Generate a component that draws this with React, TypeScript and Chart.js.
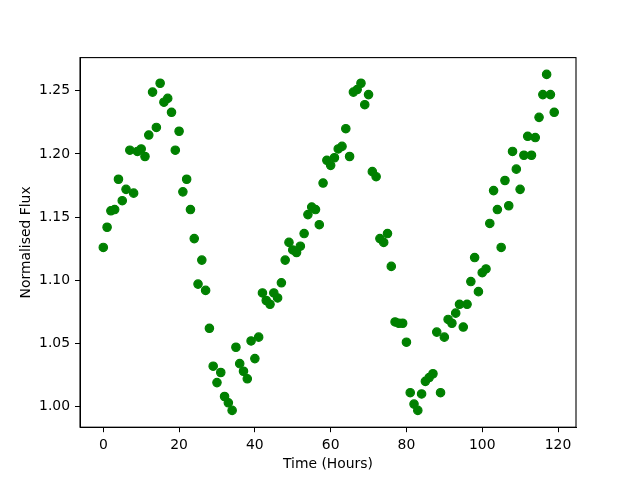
import React, { useEffect, useRef } from "react";
import { Chart, registerables } from "chart.js";

Chart.register(...registerables);

const hours: number[] = [
  0, 1, 2, 3, 4, 5, 6, 7, 8, 9, 10, 11, 12, 13, 14, 15, 16, 17, 18, 19,
  20, 21, 22, 23, 24, 25, 26, 27, 28, 29, 30, 31, 32, 33, 34, 35, 36, 37, 38, 39,
  40, 41, 42, 43, 44, 45, 46, 47, 48, 49, 50, 51, 52, 53, 54, 55, 56, 57, 58, 59,
  60, 61, 62, 63, 64, 65, 66, 67, 68, 69, 70, 71, 72, 73, 74, 75, 76, 77, 78, 79,
  80, 81, 82, 83, 84, 85, 86, 87, 88, 89, 90, 91, 92, 93, 94, 95, 96, 97, 98, 99,
  100, 101, 102, 103, 104, 105, 106, 107, 108, 109, 110, 111, 112, 113, 114, 115, 116, 117, 118, 119,
];

const flux: number[] = [
  1.126, 1.142, 1.155, 1.156, 1.180, 1.163, 1.172, 1.203, 1.169, 1.202,
  1.204, 1.198, 1.215, 1.249, 1.221, 1.256, 1.241, 1.244, 1.233, 1.203,
  1.218, 1.170, 1.180, 1.156, 1.133, 1.097, 1.116, 1.092, 1.062, 1.032,
  1.019, 1.027, 1.008, 1.003, 0.997, 1.047, 1.034, 1.028, 1.022, 1.052,
  1.038, 1.055, 1.090, 1.084, 1.081, 1.090, 1.086, 1.098, 1.116, 1.130,
  1.124, 1.122, 1.127, 1.137, 1.152, 1.158, 1.156, 1.144, 1.177, 1.195,
  1.191, 1.197, 1.204, 1.206, 1.220, 1.198, 1.249, 1.251, 1.256, 1.239,
  1.247, 1.186, 1.182, 1.133, 1.130, 1.137, 1.111, 1.067, 1.066, 1.066,
  1.051, 1.011, 1.002, 0.997, 1.010, 1.020, 1.023, 1.026, 1.059, 1.011,
  1.055, 1.069, 1.066, 1.074, 1.081, 1.063, 1.081, 1.099, 1.118, 1.091,
  1.106, 1.109, 1.145, 1.171, 1.156, 1.126, 1.179, 1.159, 1.202, 1.188,
  1.172, 1.199, 1.214, 1.199, 1.213, 1.229, 1.247, 1.263, 1.247, 1.233,
];

const xTicks: number[] = [0, 20, 40, 60, 80, 100, 120];
const yTicks: number[] = [1.0, 1.05, 1.1, 1.15, 1.2, 1.25];

const xTitle = "Time (Hours)";
const yTitle = "Normalised Flux";

const FONT = "'DejaVu Sans', sans-serif";

const framePlugin = {
  id: "frame",
  afterDatasetsDraw(chart: any) {
    const { ctx, chartArea } = chart;
    ctx.save();
    ctx.strokeStyle = "#000";
    ctx.lineWidth = 1.1;
    ctx.strokeRect(chartArea.left, chartArea.top, chartArea.right - chartArea.left, chartArea.bottom - chartArea.top);
    ctx.restore();
  },
};

export default function App() {
  const ref = useRef<HTMLCanvasElement | null>(null);

  useEffect(() => {
    if (!ref.current) return;
    const data = hours.map((h, i) => ({ x: h, y: flux[i] }));
    const chart = new Chart(ref.current, {
      type: "scatter",
      data: {
        datasets: [
          {
            data,
            backgroundColor: "#008000",
            borderColor: "#008000",
            pointRadius: 4.2,
            pointBorderWidth: 1.2,
            pointHoverRadius: 4.2,
          },
        ],
      },
      options: {
        responsive: false,
        animation: false,
        devicePixelRatio: 1,
        layout: { padding: { top: 57.6, right: 64, left: 0, bottom: 0 } },
        plugins: {
          legend: { display: false },
          tooltip: { enabled: false },
        },
        scales: {
          x: {
            type: "linear",
            min: -6.15,
            max: 124.75,
            afterFit: (s: any) => {
              s.height = 52.8;
            },
            afterBuildTicks: (s: any) => {
              s.ticks = xTicks.map((v) => ({ value: v }));
            },
            grid: {
              drawOnChartArea: false,
              drawTicks: true,
              tickLength: 5,
              tickColor: "#000",
              tickWidth: 1,
            },
            border: { color: "#000", width: 1 },
            ticks: {
              color: "#000",
              padding: 5,
              font: { family: FONT, size: 13.9 },
              maxRotation: 0,
              callback: (v: any) => String(v),
            },
            title: {
              display: true,
              text: xTitle,
              color: "#000",
              font: { family: FONT, size: 13.9 },
              padding: { top: 0, bottom: 7.5 },
            },
          },
          y: {
            type: "linear",
            min: 0.9837,
            max: 1.2763,
            afterFit: (s: any) => {
              s.width = 80;
            },
            afterBuildTicks: (s: any) => {
              s.ticks = yTicks.map((v) => ({ value: v }));
            },
            grid: {
              drawOnChartArea: false,
              drawTicks: true,
              tickLength: 5,
              tickColor: "#000",
              tickWidth: 1,
            },
            border: { color: "#000", width: 1 },
            ticks: {
              color: "#000",
              padding: 5,
              font: { family: FONT, size: 13.9 },
              callback: (v: any) => Number(v).toFixed(2),
            },
            title: {
              display: true,
              text: yTitle,
              color: "#000",
              font: { family: FONT, size: 13.9 },
              padding: { top: 18.5, bottom: 0 },
            },
          },
        },
      },
      plugins: [framePlugin],
    });
    return () => chart.destroy();
  }, []);

  return (
    <div style={{ position: "fixed", left: 0, top: 0, width: 640, height: 480, background: "#fff" }}>
      <canvas ref={ref} width={640} height={480} style={{ display: "block", width: 640, height: 480 }} />
    </div>
  );
}
